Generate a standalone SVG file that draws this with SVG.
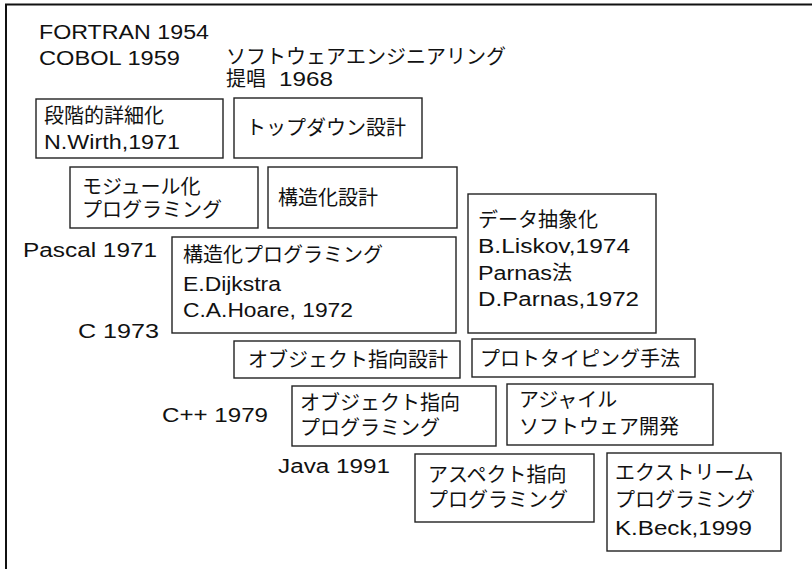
<svg xmlns="http://www.w3.org/2000/svg" width="812" height="569" viewBox="0 0 812 569">
<style>
text{font-family:"Liberation Sans","Noto Sans CJK JP",sans-serif;font-size:20px;fill:#111}
.b{fill:#fff;stroke:#222;stroke-width:1.4}
.f{fill:none;stroke:#111;stroke-width:2}
</style>
<rect width="812" height="569" fill="#fff"/>
<path class="f" d="M6,569 V4.5 H812"/>
<g id="labels">
<text x="39" y="39" textLength="170" lengthAdjust="spacingAndGlyphs">FORTRAN 1954</text>
<text x="39" y="65" textLength="141" lengthAdjust="spacingAndGlyphs">COBOL 1959</text>
<text x="226" y="64">ソフトウェアエンジニアリング</text>
<text x="226" y="86">提唱<tspan x="279" textLength="54" lengthAdjust="spacingAndGlyphs">1968</tspan></text>
<text x="23" y="257" textLength="134" lengthAdjust="spacingAndGlyphs">Pascal 1971</text>
<text x="78" y="338" textLength="81" lengthAdjust="spacingAndGlyphs">C 1973</text>
<text x="162" y="422" textLength="106" lengthAdjust="spacingAndGlyphs">C++ 1979</text>
<text x="278" y="473" textLength="112" lengthAdjust="spacingAndGlyphs">Java 1991</text>
</g>
<g id="n1"><rect class="b" x="36" y="99" width="187" height="59"/><text x="44" y="123">段階的詳細化</text><text x="44" y="149" textLength="136" lengthAdjust="spacingAndGlyphs">N.Wirth,1971</text></g>
<g id="n2"><rect class="b" x="234" y="98" width="188" height="60"/><text x="246" y="135">トップダウン設計</text></g>
<g id="n3"><rect class="b" x="70" y="167" width="188" height="61"/><text x="82" y="194">モジュール化</text><text x="82" y="217">プログラミング</text></g>
<g id="n4"><rect class="b" x="268" y="167" width="189" height="61"/><text x="278" y="205">構造化設計</text></g>
<g id="n5"><rect class="b" x="172" y="237" width="284" height="96"/><text x="183" y="262">構造化プログラミング</text><text x="183" y="291" textLength="98" lengthAdjust="spacingAndGlyphs">E.Dijkstra</text><text x="183" y="317" textLength="170" lengthAdjust="spacingAndGlyphs">C.A.Hoare, 1972</text></g>
<g id="n6"><rect class="b" x="468" y="194" width="188" height="139"/><text x="478" y="227">データ抽象化</text><text x="478" y="253" textLength="152" lengthAdjust="spacingAndGlyphs">B.Liskov,1974</text><text x="478" y="280"><tspan textLength="74" lengthAdjust="spacingAndGlyphs">Parnas</tspan>法</text><text x="478" y="306" textLength="161" lengthAdjust="spacingAndGlyphs">D.Parnas,1972</text></g>
<g id="n7"><rect class="b" x="234" y="341" width="226" height="37"/><text x="248" y="367">オブジェクト指向設計</text></g>
<g id="n8"><rect class="b" x="472" y="339" width="223" height="38"/><text x="480" y="366">プロトタイピング手法</text></g>
<g id="n9"><rect class="b" x="292" y="386" width="204" height="60"/><text x="300" y="410">オブジェクト指向</text><text x="300" y="435">プログラミング</text></g>
<g id="n10"><rect class="b" x="507" y="384" width="206" height="61"/><text x="519" y="407">アジャイル</text><text x="519" y="434">ソフトウェア開発</text></g>
<g id="n11"><rect class="b" x="415" y="454" width="179" height="68"/><text x="428" y="482">アスペクト指向</text><text x="428" y="507">プログラミング</text></g>
<g id="n12"><rect class="b" x="607" y="453" width="174" height="98"/><text x="615" y="480">エクストリーム</text><text x="615" y="507">プログラミング</text><text x="615" y="535" textLength="137" lengthAdjust="spacingAndGlyphs">K.Beck,1999</text></g>
<g id="connectors"></g>
</svg>
